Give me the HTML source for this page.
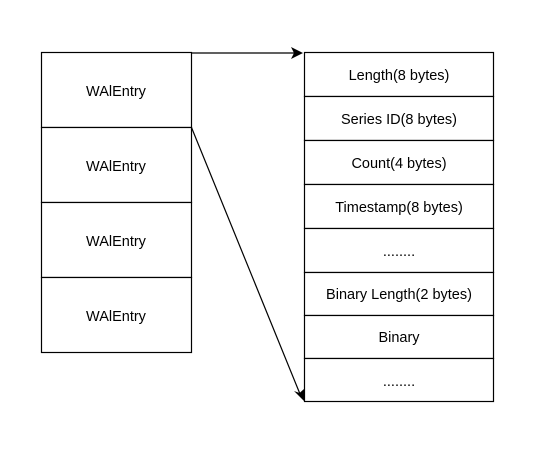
<!DOCTYPE html>
<html><head><style>body{margin:0;background:#fff}</style></head><body>
<svg width="555" height="445" xmlns="http://www.w3.org/2000/svg" font-family="Liberation Sans, sans-serif" font-size="14.5" text-anchor="middle">
<rect width="555" height="445" fill="#fff"/>
<g fill="#fff" stroke="#000" stroke-width="1.2">
<rect x="41.5" y="52.5" width="150" height="75"/>
<rect x="41.5" y="127.5" width="150" height="75"/>
<rect x="41.5" y="202.5" width="150" height="75"/>
<rect x="41.5" y="277.5" width="150" height="75"/>
<rect x="304.5" y="52.5" width="189" height="44"/>
<rect x="304.5" y="96.5" width="189" height="44"/>
<rect x="304.5" y="140.5" width="189" height="44"/>
<rect x="304.5" y="184.5" width="189" height="44"/>
<rect x="304.5" y="228.5" width="189" height="44"/>
<rect x="304.5" y="272.5" width="189" height="43"/>
<rect x="304.5" y="315.5" width="189" height="43"/>
<rect x="304.5" y="358.5" width="189" height="43"/>
</g>
<g fill="#000">
<text x="116" y="96">WAlEntry</text>
<text x="116" y="171">WAlEntry</text>
<text x="116" y="246">WAlEntry</text>
<text x="116" y="321">WAlEntry</text>
<text x="399" y="80">Length(8 bytes)</text>
<text x="399" y="124">Series ID(8 bytes)</text>
<text x="399" y="168">Count(4 bytes)</text>
<text x="399" y="212">Timestamp(8 bytes)</text>
<text x="399" y="256">........</text>
<text x="399" y="299">Binary Length(2 bytes)</text>
<text x="399" y="342">Binary</text>
<text x="399" y="386">........</text>
</g>
<g stroke="#000" stroke-width="1.2" fill="none">
<line x1="191.5" y1="53" x2="294" y2="53"/>
<line x1="191.5" y1="127.5" x2="300" y2="394"/>
</g>
<polygon points="303,53 291,47 294,53 291,59" fill="#000"/>
<polygon points="304,401 294,391 299.5,393 304,389" fill="#000"/>
</svg>
</body></html>
